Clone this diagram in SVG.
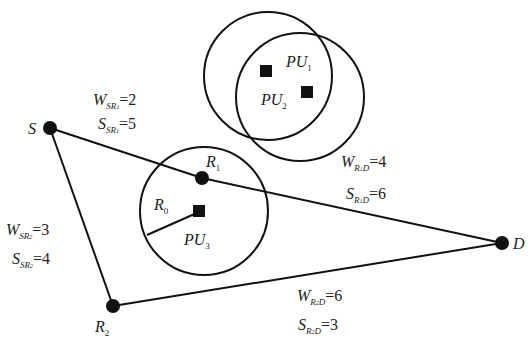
<svg xmlns="http://www.w3.org/2000/svg" width="528" height="342" viewBox="0 0 528 342">
<style>
.t{font-family:"Liberation Serif",serif;font-style:italic;font-size:16px;fill:#222}
.s{font-size:9px}
.e{font-style:normal}
.c{fill:none;stroke:#111;stroke-width:2}
.l{stroke:#111;stroke-width:2;fill:none}
</style>
<rect width="528" height="342" fill="#fff"/>
<g id="connectors">
<line class="l" x1="50" y1="128" x2="202" y2="178"/>
<line class="l" x1="202" y1="178" x2="502" y2="243"/>
<line class="l" x1="50" y1="128" x2="113" y2="306"/>
<line class="l" x1="113" y1="306" x2="502" y2="243"/>
<line class="l" x1="199" y1="212" x2="147" y2="235"/>
</g>
<g id="circle-R1"><circle class="c" cx="204" cy="211" r="64"/></g>
<g id="circle-PU1"><circle class="c" cx="268" cy="76" r="64"/></g>
<g id="circle-PU2"><circle class="c" cx="300" cy="97" r="64"/></g>
<g id="S"><circle cx="50" cy="128" r="7" fill="#111"/><text class="t" x="28" y="134">S</text></g>
<g id="R1"><circle cx="202" cy="178" r="7" fill="#111"/><text class="t" x="206" y="167">R<tspan class="s e" dy="4">1</tspan></text></g>
<g id="D"><circle cx="502" cy="243" r="7" fill="#111"/><text class="t" x="513" y="249">D</text></g>
<g id="R2"><circle cx="113" cy="306" r="7" fill="#111"/><text class="t" x="95" y="332">R<tspan class="s e" dy="4">2</tspan></text></g>
<g id="PU3"><rect x="193" y="205" width="12" height="12" fill="#111"/><text class="t" x="184" y="245">PU<tspan class="s e" dy="4">3</tspan></text></g>
<g id="R0label"><text class="t" x="154" y="210">R<tspan class="s e" dy="4">0</tspan></text></g>
<g id="PU1"><rect x="260" y="65" width="12" height="12" fill="#111"/><text class="t" x="286" y="67">PU<tspan class="s e" dy="4">1</tspan></text></g>
<g id="PU2"><rect x="301" y="86" width="12" height="12" fill="#111"/><text class="t" x="261" y="105">PU<tspan class="s e" dy="4">2</tspan></text></g>
<g id="labels">
<text class="t" x="93" y="105">W<tspan class="s" dy="4">SR<tspan font-size="6">1</tspan></tspan><tspan class="e" dy="-4">=2</tspan></text>
<text class="t" x="98" y="129">S<tspan class="s" dy="4">SR<tspan font-size="6">1</tspan></tspan><tspan class="e" dy="-4">=5</tspan></text>
<text class="t" x="6" y="235">W<tspan class="s" dy="4">SR<tspan font-size="6">2</tspan></tspan><tspan class="e" dy="-4">=3</tspan></text>
<text class="t" x="12" y="264">S<tspan class="s" dy="4">SR<tspan font-size="6">2</tspan></tspan><tspan class="e" dy="-4">=4</tspan></text>
<text class="t" x="341" y="167">W<tspan class="s" dy="4">R<tspan font-size="6">1</tspan>D</tspan><tspan class="e" dy="-4">=4</tspan></text>
<text class="t" x="346" y="199">S<tspan class="s" dy="4">R<tspan font-size="6">1</tspan>D</tspan><tspan class="e" dy="-4">=6</tspan></text>
<text class="t" x="297" y="301">W<tspan class="s" dy="4">R<tspan font-size="6">2</tspan>D</tspan><tspan class="e" dy="-4">=6</tspan></text>
<text class="t" x="298" y="330">S<tspan class="s" dy="4">R<tspan font-size="6">2</tspan>D</tspan><tspan class="e" dy="-4">=3</tspan></text>
</g>
</svg>
